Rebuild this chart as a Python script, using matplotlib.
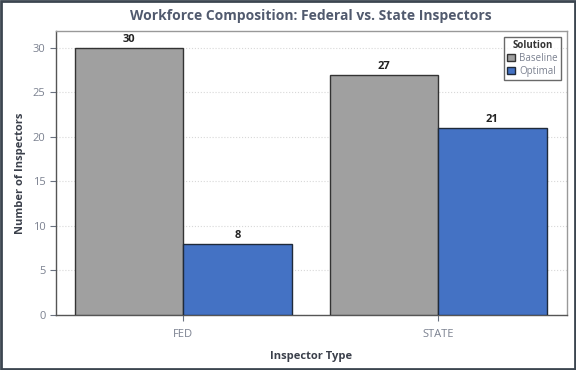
import matplotlib
matplotlib.use('Agg')
import matplotlib.pyplot as plt
import numpy as np
from matplotlib.patches import Rectangle

# data
categories = ['FED', 'STATE']
baseline = [30, 27]
optimal = [8, 21]
yticks = [0, 5, 10, 15, 20, 25, 30]

plt.rcParams['font.family'] = ['Open Sans', 'DejaVu Sans']

fig = plt.figure(figsize=(5.76, 3.70), dpi=100)
ax = fig.add_axes([56 / 576, 1 - 315 / 370, (567 - 56) / 576, (315 - 31) / 370])

x = np.arange(len(categories))
w = 0.425
b1 = ax.bar(x - w / 2, baseline, w, color='#a0a0a0', edgecolor='#333333', linewidth=1.0,
            label='Baseline', zorder=3)
b2 = ax.bar(x + w / 2, optimal, w, color='#4472c4', edgecolor='#1f2a3a', linewidth=1.0,
            label='Optimal', zorder=3)

for bars in (b1, b2):
    for rect in bars:
        h = rect.get_height()
        ax.text(rect.get_x() + rect.get_width() / 2, h + 0.35, '%d' % h,
                ha='center', va='bottom', fontsize=8, fontweight='bold', color='#222222')

ax.set_xlim(-0.5, 1.505)
ax.set_ylim(0, 31.9)
ax.set_xticks(x)
ax.set_xticklabels(categories)
ax.set_yticks(yticks)
ax.tick_params(axis='both', colors='#6b7280', labelsize=8, length=4, width=0.8)
ax.tick_params(axis='x', pad=6)
ax.tick_params(axis='both', labelcolor='#7b8190')
ax.grid(axis='y', linestyle=':', color='#d8d8d8', linewidth=0.8, zorder=0)

ax.spines['left'].set_color('#555555')
ax.spines['bottom'].set_color('#555555')
ax.spines['top'].set_color('#999999')
ax.spines['right'].set_color('#999999')
for s in ax.spines.values():
    s.set_linewidth(1.0)

ax.set_xlabel('Inspector Type', fontsize=8, fontweight='bold', color='#3a3f4a', labelpad=8)
ax.set_ylabel('Number of Inspectors', fontsize=8, fontweight='bold', color='#3a3f4a', labelpad=5)
fig.text(311 / 576, 1 - 16 / 370, 'Workforce Composition: Federal vs. State Inspectors',
         ha='center', va='center', fontsize=10, fontweight='bold', color='#515a6e')

leg = ax.legend(title='Solution', loc='upper right', fontsize=7, title_fontsize=7,
                frameon=True, fancybox=False, borderpad=0.3, handlelength=0.8,
                handleheight=0.8, handletextpad=0.4, labelspacing=0.2,
                bbox_to_anchor=(0.997, 0.995))
leg.get_title().set_fontweight('bold')
leg.get_title().set_color('#333333')
leg.get_frame().set_edgecolor('#444444')
leg.get_frame().set_linewidth(1.0)
for t in leg.get_texts():
    t.set_color('#7b8190')

fig.patches.append(Rectangle((0.002, 0.003), 0.996, 0.994, transform=fig.transFigure,
                             fill=False, edgecolor='#3c4650', linewidth=2.0))

fig.savefig('out.png', dpi=100)
